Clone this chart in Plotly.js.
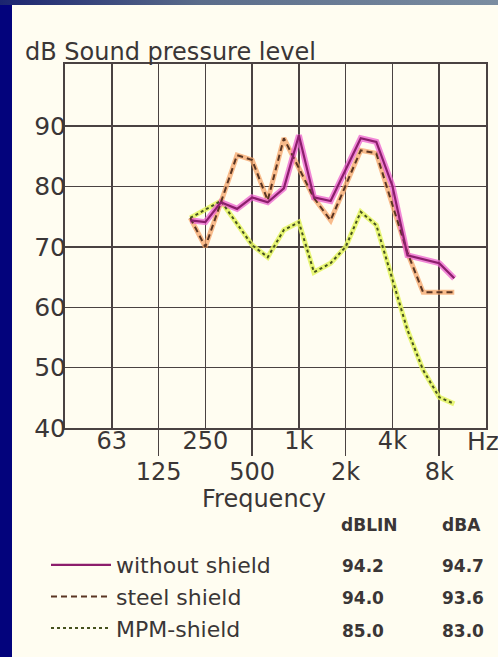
<!DOCTYPE html>
<html>
<head>
<meta charset="utf-8">
<script src="https://cdn.plot.ly/plotly-3.0.1.min.js"></script>
<style>
  html, body { margin: 0; padding: 0; }
  body { width: 498px; height: 657px; background: #03037c; position: relative; overflow: hidden; }
  #topbar { position: absolute; left: 0; top: 0; width: 498px; height: 5px;
            background: linear-gradient(to right, #1b2470, #5a6c8a 40%, #7b8da1); }
  #chart { position: absolute; left: 12px; top: 5px; width: 486px; height: 652px; }
</style>
</head>
<body>
<div id="topbar"></div>
<div id="chart"></div>
<script>
// ---- data ----
const octaveTicks = [62.5, 125, 250, 500, 1000, 2000, 4000, 8000];
const octaveLabels = ["63", "125", "250", "500", "1k", "2k", "4k", "8k"];
const longTicks = [125, 500, 2000, 8000];
const yTicks = [40, 50, 60, 70, 80, 90];

const seriesNames = ["without shield", "steel shield", "MPM-shield"];

const withoutFreq = [200, 250, 315, 400, 500, 630, 800, 1000, 1250, 1600, 2500, 3150, 4000, 5000, 8000, 10000];
const withoutDb   = [74.4, 74.1, 77.4, 76.3, 78.2, 77.4, 79.7, 88.5, 78.2, 77.6, 88.0, 87.4, 80.1, 68.6, 67.3, 64.8];

const steelFreq = [200, 250, 315, 400, 500, 630, 800, 1250, 1600, 2500, 3150, 4000, 5000, 6300, 8000, 10000];
const steelDb   = [74.8, 70.0, 77.4, 85.2, 84.4, 77.7, 88.0, 78.1, 74.4, 86.0, 85.5, 77.0, 69.0, 62.5, 62.5, 62.5];

const mpmFreq = [200, 315, 500, 630, 800, 1000, 1250, 1600, 2000, 2500, 3150, 4000, 5000, 6300, 8000, 10000];
const mpmDb   = [74.8, 77.6, 70.3, 68.3, 72.8, 74.1, 65.8, 67.3, 70.0, 75.8, 73.6, 64.5, 56.2, 49.6, 45.1, 44.0];

const dBLIN = [94.2, 94.0, 85.0];
const dBA   = [94.7, 93.6, 83.0];

// ---- styling ----
const ink = '#4a4242';
const textCol = '#3a3636';
const cream = '#fffdf1';
const fontMain = 'DejaVu Sans, Liberation Sans, Arial, sans-serif';

const seriesX = [withoutFreq, steelFreq, mpmFreq];
const seriesY = [withoutDb, steelDb, mpmDb];
const haloStyle = [
  {color: 'rgba(236,96,206,0.75)', width: 6},
  {color: 'rgba(246,164,104,0.75)', width: 5},
  {color: 'rgba(228,244,96,0.85)', width: 5}
];
const coreStyle = [
  {color: '#8c1e6c', width: 2.2, dash: 'solid'},
  {color: '#5a3522', width: 2, dash: '6px,4px'},
  {color: '#46521e', width: 2, dash: 'dot'}
];
const drawOrder = [2, 1, 0];

const traces = [];
drawOrder.forEach(i => {
  traces.push({
    x: seriesX[i], y: seriesY[i], type: 'scatter', mode: 'lines',
    line: haloStyle[i], showlegend: false, hoverinfo: 'skip'
  });
});
drawOrder.forEach(i => {
  traces.push({
    x: seriesX[i], y: seriesY[i], type: 'scatter', mode: 'lines',
    name: seriesNames[i], line: coreStyle[i], legendrank: i + 1,
    legendgroup: 'g' + i
  });
});

// pixel helpers for text placement (page coordinates -> paper)
const px = a => (a - 65) / 421;
const py = a => (428 - a) / 364;

const annotations = [
  {text: 'Hz', x: px(483), y: py(441), xref: 'paper', yref: 'paper', showarrow: false,
   xanchor: 'center', yanchor: 'middle', font: {family: fontMain, size: 25, color: textCol}},
  {text: 'Frequency', x: px(264), y: py(499), xref: 'paper', yref: 'paper', showarrow: false,
   xanchor: 'center', yanchor: 'middle', font: {family: fontMain, size: 24, color: textCol}},
  {text: '<b>dBLIN</b>', x: px(369), y: py(525), xref: 'paper', yref: 'paper', showarrow: false,
   xanchor: 'center', yanchor: 'middle', font: {family: fontMain, size: 17, color: textCol}},
  {text: '<b>dBA</b>', x: px(461), y: py(525), xref: 'paper', yref: 'paper', showarrow: false,
   xanchor: 'center', yanchor: 'middle', font: {family: fontMain, size: 17, color: textCol}}
];
const rowY = [566, 598, 631];
seriesNames.forEach((n, i) => {
  annotations.push({text: '<b>' + dBLIN[i].toFixed(1) + '</b>', x: px(363), y: py(rowY[i]),
    xref: 'paper', yref: 'paper', showarrow: false, xanchor: 'center', yanchor: 'middle',
    font: {family: fontMain, size: 17, color: textCol}});
  annotations.push({text: '<b>' + dBA[i].toFixed(1) + '</b>', x: px(463), y: py(rowY[i]),
    xref: 'paper', yref: 'paper', showarrow: false, xanchor: 'center', yanchor: 'middle',
    font: {family: fontMain, size: 17, color: textCol}});
});

const layout = {
  width: 486, height: 652,
  margin: {l: 53, r: 12, t: 59, b: 229, pad: 0, autoexpand: false},
  paper_bgcolor: cream, plot_bgcolor: cream,
  title: {text: 'dB Sound pressure level', xref: 'container', yref: 'container',
          x: 13 / 486, xanchor: 'left', y: 1 - 47 / 652, yanchor: 'middle',
          font: {family: fontMain, size: 24, color: textCol}},
  xaxis: {
    type: 'log', range: [Math.log10(31.25), Math.log10(16000)],
    tickmode: 'array', tickvals: octaveTicks,
    ticktext: octaveLabels.map((t, i) => i % 2 === 0 ? t : ' <br>' + t),
    tickangle: 0, automargin: false, ticklabelstandoff: -10,
    ticks: '', showgrid: true, gridcolor: ink, gridwidth: 1.5,
    showline: true, linecolor: ink, linewidth: 2, mirror: true, zeroline: false,
    tickfont: {family: fontMain, size: 24, color: textCol},
    minor: {tickmode: 'array', tickvals: longTicks, ticks: 'outside', ticklen: 26,
            tickwidth: 1.5, tickcolor: ink, showgrid: false},
    fixedrange: true
  },
  yaxis: {
    range: [40, 100.3], tickmode: 'array', tickvals: yTicks,
    ticks: '', showgrid: true, gridcolor: ink, gridwidth: 1.5, automargin: false,
    showline: true, linecolor: ink, linewidth: 2, mirror: true, zeroline: false,
    tickfont: {family: fontMain, size: 25, color: textCol}, ticklabelstandoff: -8,
    fixedrange: true
  },
  showlegend: true,
  legend: {
    x: px(46), y: py(544), xanchor: 'left', yanchor: 'top',
    bgcolor: 'rgba(0,0,0,0)', font: {family: fontMain, size: 22, color: textCol},
    tracegroupgap: 4, itemwidth: 60, traceorder: 'normal'
  },
  annotations: annotations
};

Plotly.newPlot('chart', traces, layout, {displayModeBar: false, staticPlot: true});
</script>
</body>
</html>
